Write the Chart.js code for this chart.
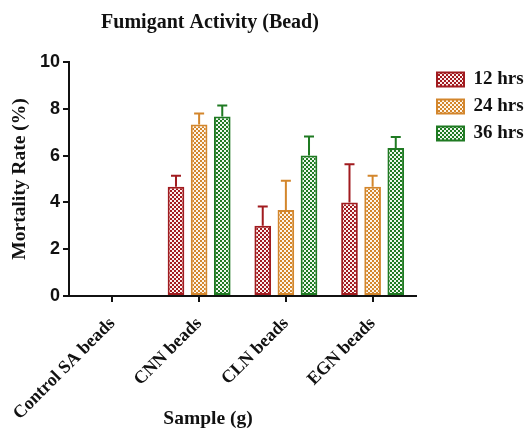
<!DOCTYPE html>
<html>
<head>
<meta charset="utf-8">
<title>Fumigant Activity (Bead)</title>
<script src="https://cdn.jsdelivr.net/npm/chart.js@4/dist/chart.umd.min.js"></script>
<style>
  html, body { margin: 0; padding: 0; background: #ffffff; }
  #wrap { width: 532px; height: 428px; }
</style>
</head>
<body>
<div id="wrap"><canvas id="chart" width="532" height="428"></canvas></div>
<script>
// Sample groups on the x axis
const samples = ['Control SA beads', 'CNN beads', 'CLN beads', 'EGN beads'];
// Exposure times (series)
const seriesNames = ['12 hrs', '24 hrs', '36 hrs'];
// Mean mortality rate (%) per sample
const mortality12 = [0, 4.67, 3.00, 4.00];
const mortality24 = [0, 7.33, 3.67, 4.67];
const mortality36 = [0, 7.67, 6.00, 6.33];
// Upper error (SEM) per sample
const error12 = [0, 0.47, 0.82, 1.63];
const error24 = [0, 0.47, 1.25, 0.47];
const error36 = [0, 0.47, 0.82, 0.47];
// Y axis ticks
const yTicks = [0, 2, 4, 6, 8, 10];

const seriesColors = ['#a11b1f', '#d3862c', '#1f7a22'];
const seriesTints = ['#fbeeee', '#fdf5ea', '#eef7ee'];

// Checkerboard fill used by the bars and legend boxes
function checker(color, tint) {
  const c = document.createElement('canvas');
  c.width = 4; c.height = 4;
  const g = c.getContext('2d');
  g.fillStyle = tint; g.fillRect(0, 0, 4, 4);
  g.fillStyle = color;
  g.fillRect(0, 0, 2, 2);
  g.fillRect(2, 2, 2, 2);
  return g.createPattern(c, 'repeat');
}

const serifBold = (size) => ({ family: '"Liberation Serif", "Times New Roman", serif', weight: 'bold', size });

const seriesValues = [mortality12, mortality24, mortality36];
const seriesErrors = [error12, error24, error36];

const datasets = seriesNames.map((name, i) => ({
  label: name,
  data: seriesValues[i],
  errors: seriesErrors[i],
  backgroundColor: checker(seriesColors[i], seriesTints[i]),
  borderColor: seriesColors[i],
  borderWidth: 2,
  borderSkipped: false,
  categoryPercentage: 0.8,
  barPercentage: 0.72
}));

// Upward error bars with caps
const errorBars = {
  id: 'errorBars',
  afterDatasetsDraw(chart) {
    const { ctx } = chart;
    const y = chart.scales.y;
    chart.data.datasets.forEach((ds, di) => {
      const meta = chart.getDatasetMeta(di);
      meta.data.forEach((bar, i) => {
        const err = ds.errors[i];
        if (!err) return;
        const top = y.getPixelForValue(ds.data[i] + err);
        ctx.save();
        ctx.strokeStyle = ds.borderColor;
        ctx.lineWidth = 2;
        ctx.beginPath();
        ctx.moveTo(bar.x, bar.y);
        ctx.lineTo(bar.x, top);
        ctx.moveTo(bar.x - 5, top);
        ctx.lineTo(bar.x + 5, top);
        ctx.stroke();
        ctx.restore();
      });
    });
  }
};

// Fixed width for the legend column on the right
const legendWidth = {
  id: 'legendWidth',
  beforeLayout(chart) {
    const lg = chart.legend;
    if (lg && !lg._fixedFit) {
      const fit = lg.fit;
      lg.fit = function () { fit.call(this); this.width = 103; };
      lg._fixedFit = true;
    }
  }
};

// Chart heading and x axis caption
const captions = {
  id: 'captions',
  afterDraw(chart) {
    const { ctx } = chart;
    ctx.save();
    ctx.fillStyle = '#111111';
    ctx.textAlign = 'center';
    ctx.textBaseline = 'alphabetic';
    ctx.font = 'bold 20px "Liberation Serif", "Times New Roman", serif';
    ctx.fillText('Fumigant Activity (Bead)', 210, 28);
    ctx.font = 'bold 19.5px "Liberation Serif", "Times New Roman", serif';
    ctx.fillText('Sample (g)', 208, 424);
    ctx.restore();
  }
};

new Chart(document.getElementById('chart'), {
  type: 'bar',
  data: { labels: samples, datasets },
  plugins: [errorBars, legendWidth, captions],
  options: {
    responsive: false,
    animation: false,
    events: [],
    layout: { padding: { top: 62, right: 0, bottom: 0, left: 0 } },
    plugins: {
      title: { display: false },
      tooltip: { enabled: false },
      legend: {
        position: 'right',
        align: 'start',
        labels: {
          font: serifBold(19),
          color: '#111111',
          boxWidth: 27,
          boxHeight: 14,
          padding: 8
        }
      }
    },
    scales: {
      x: {
        offset: true,
        grid: { display: true, drawOnChartArea: false, offset: false, color: '#111111', lineWidth: 2, tickLength: 6 },
        border: { display: true, color: '#111111', width: 2 },
        ticks: {
          autoSkip: false,
          minRotation: 45,
          maxRotation: 45,
          padding: 11,
          color: '#111111',
          font: serifBold(18)
        },
        afterFit(s) { s.height = 132; s.paddingLeft = 0; s.paddingRight = 0; }
      },
      y: {
        min: 0,
        max: 10,
        afterBuildTicks(s) { s.ticks = yTicks.map(v => ({ value: v })); },
        grid: { display: true, drawOnChartArea: false, color: '#111111', lineWidth: 2, tickLength: 6 },
        border: { display: true, color: '#111111', width: 2 },
        ticks: {
          padding: 3,
          color: '#111111',
          font: { family: '"Liberation Sans", Arial, sans-serif', weight: 'bold', size: 18 }
        },
        title: {
          display: true,
          text: 'Mortality Rate (%)',
          color: '#111111',
          font: serifBold(19.5),
          padding: { top: 8, bottom: 0 }
        },
        afterFit(s) { s.width = 69; }
      },
      // spacer between plot and legend
      gap: {
        type: 'linear',
        position: 'right',
        display: true,
        grid: { display: false },
        border: { display: false },
        ticks: { display: false },
        afterFit(s) { s.width = 13; }
      }
    }
  }
});
</script>
</body>
</html>
